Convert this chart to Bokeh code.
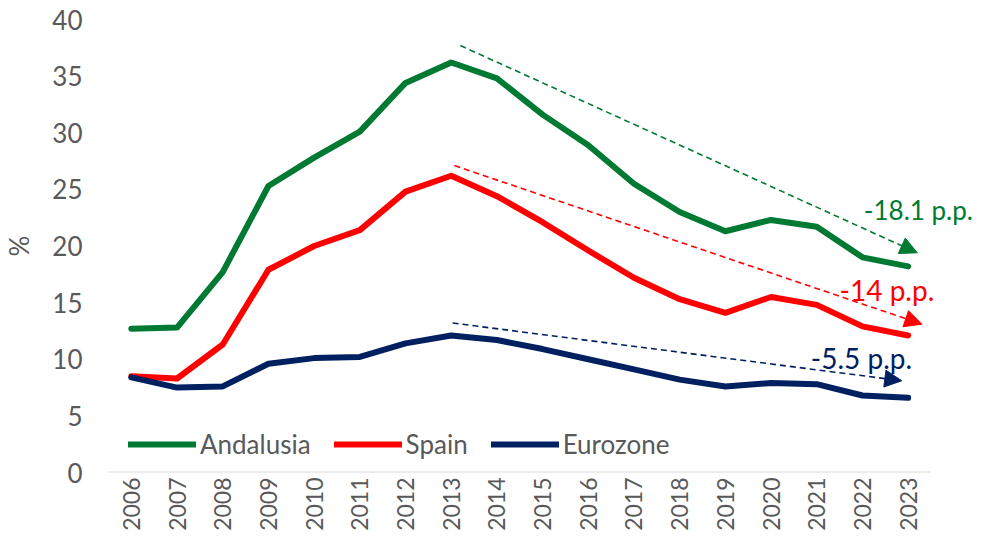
import math
from bokeh.plotting import figure
from bokeh.models import (Range1d, FixedTicker, Arrow, NormalHead, Legend, LegendItem, Label)
from bokeh.embed import file_html
from bokeh.resources import INLINE

years = [str(y) for y in range(2006, 2024)]
andalusia = [12.7, 12.8, 17.7, 25.3, 27.8, 30.1, 34.4, 36.2, 34.8, 31.6, 28.9, 25.5, 23.0, 21.3, 22.3, 21.7, 19.0, 18.2]
spain = [8.5, 8.3, 11.3, 17.9, 20.0, 21.4, 24.8, 26.2, 24.4, 22.1, 19.6, 17.2, 15.3, 14.1, 15.5, 14.8, 12.9, 12.1]
eurozone = [8.4, 7.5, 7.6, 9.6, 10.1, 10.2, 11.4, 12.1, 11.7, 10.9, 10.0, 9.1, 8.2, 7.6, 7.9, 7.8, 6.8, 6.6]

series_names = ["Andalusia", "Spain", "Eurozone"]
series_colors = ["#007A33", "#FF0000", "#002060"]

# trend arrows: (x index start, y start, x index end, y end)
trend_x0 = [7.2, 7.07, 7.03]
trend_y0 = [37.7, 27.1, 13.2]
trend_x1 = [17.2, 17.3, 16.86]
trend_y1 = [19.4, 13.1, 8.1]
trend_labels = ["-18.1 p.p.", "-14 p.p.", "-5.5 p.p."]
label_x = [16.03, 15.5, 14.87]
label_y = [23.2, 16.1, 10.1]
label_sizes = ["26px", "28px", "28px"]

FONT = "Lato"
GREY = "#595959"
FS = "26px"

x = list(range(len(years)))
x_lo = -0.5
x_hi = len(years) - 0.5

p = figure(width=973, height=533, output_backend="svg", toolbar_location=None,
           x_range=Range1d(x_lo, x_hi + 0.93), y_range=Range1d(0, 40),
           min_border_left=10, min_border_right=0, min_border_top=19, min_border_bottom=0)
p.outline_line_color = None
p.grid.grid_line_color = None
p.background_fill_color = "white"

# category axis line (only under the categories)
p.segment(x0=[x_lo], y0=[0], x1=[x_hi], y1=[0], line_color="#D9D9D9", line_width=2)

renderers = []
for vals, c in zip([andalusia, spain, eurozone], series_colors):
    r = p.line(x, vals, line_color=c, line_width=6, line_cap="round", line_join="round")
    renderers.append(r)

for i in range(3):
    p.add_layout(Arrow(x_start=trend_x0[i], y_start=trend_y0[i], x_end=trend_x1[i], y_end=trend_y1[i],
                       line_color=series_colors[i], line_width=1.6, line_dash="6 4",
                       end=NormalHead(size=17, fill_color=series_colors[i], line_color=series_colors[i])))

for i in range(3):
    p.add_layout(Label(x=label_x[i], y=label_y[i], text=trend_labels[i], text_color=series_colors[i],
                       text_font=FONT, text_font_size=label_sizes[i], text_baseline="middle", text_align="left"))

# axes
p.xaxis.ticker = FixedTicker(ticks=x)
p.xaxis.major_label_overrides = {i: y for i, y in enumerate(years)}
p.xaxis.major_label_orientation = math.pi / 2
p.xaxis.major_tick_line_color = None
p.xaxis.major_tick_out = 0
p.xaxis.major_tick_in = 0
p.xaxis.minor_tick_line_color = None
p.xaxis.axis_line_color = None
p.xaxis.major_label_text_font = FONT
p.xaxis.major_label_text_font_size = "23px"
p.xaxis.major_label_text_color = GREY
p.xaxis.major_label_standoff = 5

p.yaxis.ticker = FixedTicker(ticks=[0, 5, 10, 15, 20, 25, 30, 35, 40])
p.yaxis.axis_line_color = None
p.yaxis.major_tick_line_color = None
p.yaxis.major_tick_out = 0
p.yaxis.major_tick_in = 0
p.yaxis.minor_tick_line_color = None
p.yaxis.major_label_text_font = FONT
p.yaxis.major_label_text_font_size = FS
p.yaxis.major_label_text_color = GREY
p.yaxis.major_label_standoff = 26
p.yaxis.axis_label = "%"
p.yaxis.axis_label_text_font = FONT
p.yaxis.axis_label_text_font_size = FS
p.yaxis.axis_label_text_font_style = "normal"
p.yaxis.axis_label_text_color = GREY
p.yaxis.axis_label_standoff = 14

legend = Legend(items=[LegendItem(label=n, renderers=[r]) for n, r in zip(series_names, renderers)],
                orientation="horizontal", location=(20, 12),
                label_text_font=FONT, label_text_font_size=FS, label_text_color=GREY,
                glyph_width=68, glyph_height=20, label_standoff=4, spacing=23,
                border_line_color=None, background_fill_alpha=0, margin=0, padding=5)
p.add_layout(legend)

open("out.html", "w").write(file_html(p, INLINE))
